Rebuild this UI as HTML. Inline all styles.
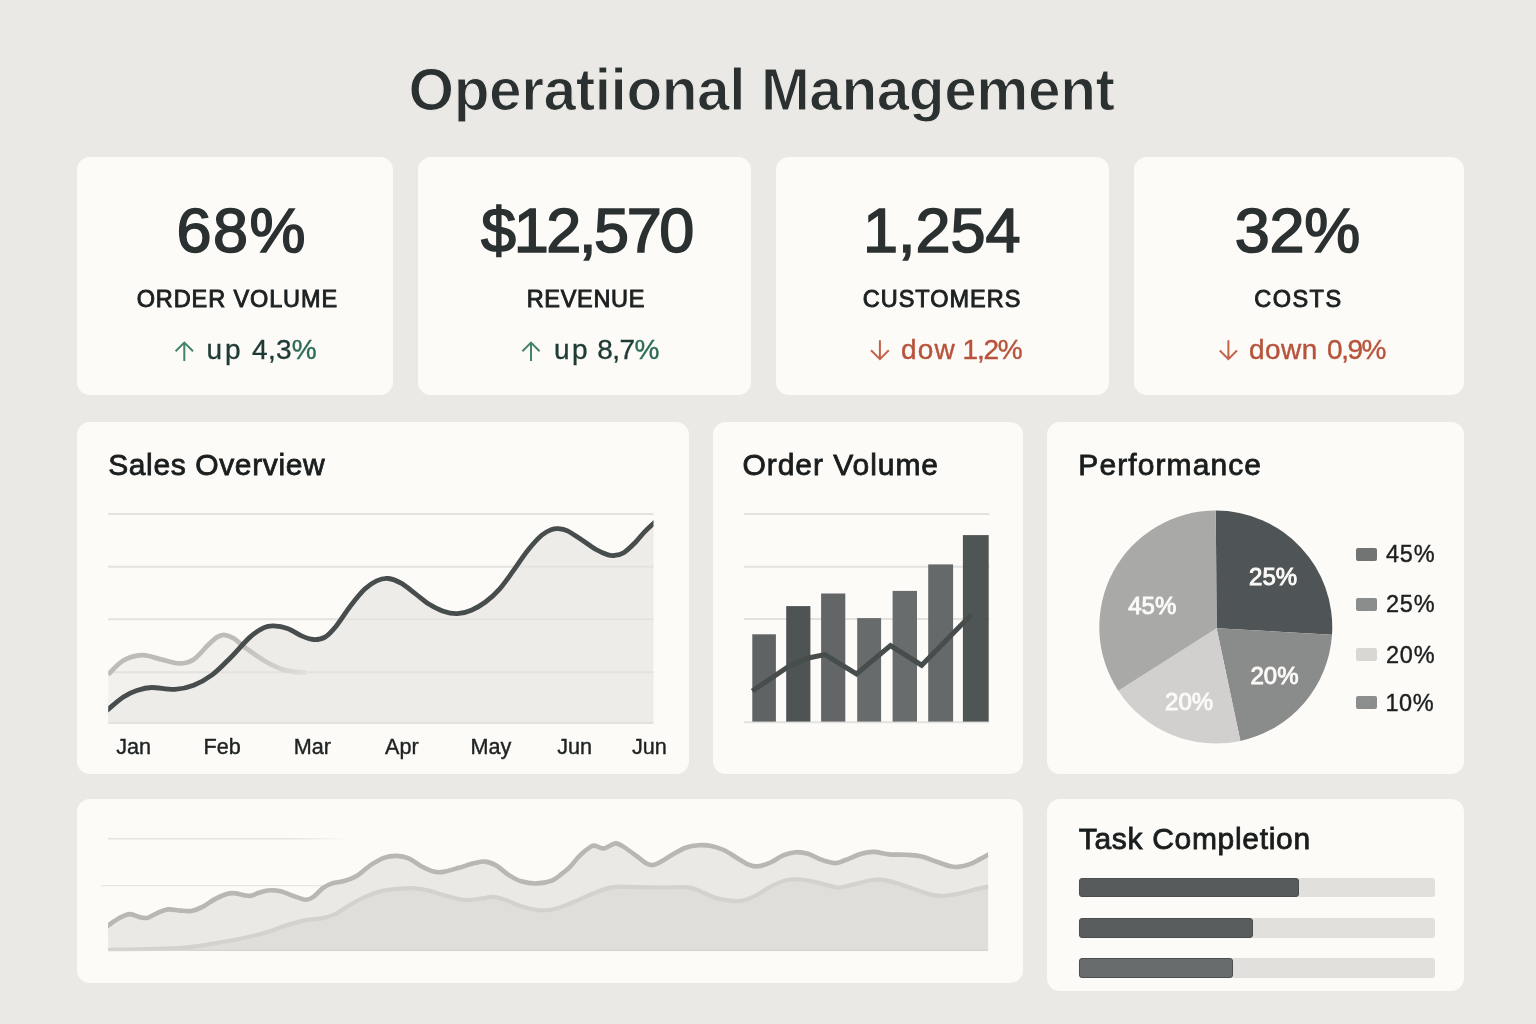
<!DOCTYPE html>
<html lang="en">
<head>
<meta charset="utf-8">
<title>Operatiional Management</title>
<style>
*{box-sizing:border-box;margin:0;padding:0}
html,body{width:1536px;height:1024px;overflow:hidden}
body{background:#EBE9E5;font-family:"Liberation Sans",Arial,sans-serif;color:#2A2F2F;position:relative}
.card{position:absolute;background:#FCFBF8;border-radius:13px}
.t{position:absolute;white-space:nowrap;line-height:1}
.h1{font-weight:700;color:#2B3031;-webkit-text-stroke:1.2px #EBE9E5}
.num{color:#2B3031;-webkit-text-stroke:1.6px #2B3031}
.lbl{color:#1C2020;-webkit-text-stroke:.9px #1C2020}
.up{color:#1F3B35;-webkit-text-stroke:.35px #1F3B35}.up b{font-weight:400;color:#2C6B55;-webkit-text-stroke:.35px #2C6B55}
.dn{color:#B8533B;-webkit-text-stroke:.4px #B8533B}
.ttl{color:#191D1D;-webkit-text-stroke:.8px #191D1D}
.mon{color:#1E2222;-webkit-text-stroke:.4px #1E2222}
.pl{color:#FBFAF7;-webkit-text-stroke:.95px #FBFAF7}
.lg{color:#1B1F1F;-webkit-text-stroke:.4px #1B1F1F}
svg{position:absolute;left:0;top:0;overflow:visible}
.sw{position:absolute;border-radius:2px}
.trk{position:absolute;background:#E2E0DC;border-radius:3px}
.bar{position:absolute;border-radius:3px;border:1px solid #4A4E4E}
</style>
</head>
<body>

<div class="t h1" style="left:408.6px;top:60.7px;font-size:58.6px;letter-spacing:-0.45px;">Operatiional Management</div>
<div class="card" style="left:77px;top:157px;width:316px;height:238px"></div>
<div class="card" style="left:418px;top:157px;width:333px;height:238px"></div>
<div class="card" style="left:776px;top:157px;width:333px;height:238px"></div>
<div class="card" style="left:1134px;top:157px;width:330px;height:238px"></div>
<div class="card" style="left:77px;top:422px;width:612px;height:352px"></div>
<div class="card" style="left:713px;top:422px;width:310px;height:352px"></div>
<div class="card" style="left:1047px;top:422px;width:417px;height:352px"></div>
<div class="card" style="left:77px;top:799px;width:946px;height:184px"></div>
<div class="card" style="left:1047px;top:799px;width:417px;height:192px"></div>
<div class="t num" style="left:176.5px;top:199.1px;font-size:63px;letter-spacing:1.4px;">68%</div>
<div class="t num" style="left:481.0px;top:199.4px;font-size:63px;letter-spacing:-2.4px;">$12,570</div>
<div class="t num" style="left:863.0px;top:199.4px;font-size:63px;">1,254</div>
<div class="t num" style="left:1234.7px;top:199.4px;font-size:63px;letter-spacing:-0.2px;">32%</div>
<div class="t lbl" style="left:136.7px;top:288.3px;font-size:23.5px;letter-spacing:0.89px;">ORDER VOLUME</div>
<div class="t lbl" style="left:526.7px;top:288.3px;font-size:23.5px;letter-spacing:0.68px;">REVENUE</div>
<div class="t lbl" style="left:862.7px;top:288.3px;font-size:23.5px;letter-spacing:1px;">CUSTOMERS</div>
<div class="t lbl" style="left:1254.2px;top:288.3px;font-size:23.5px;letter-spacing:1.5px;">COSTS</div>
<div class="t up" style="left:206.6px;top:336.1px;font-size:28px;word-spacing:.9px;"><span style="letter-spacing:2.8px">up</span> <span style="letter-spacing:.3px">4,3<b>%</b></span></div>
<div class="t up" style="left:554.0px;top:336.1px;font-size:28px;word-spacing:-.8px;"><span style="letter-spacing:2.5px">up</span> <span style="letter-spacing:-.5px">8,7<b>%</b></span></div>
<div class="t dn" style="left:901.1px;top:336.1px;font-size:28px;word-spacing:-1px;"><span style="letter-spacing:1.1px">dow</span> <span style="letter-spacing:-1.2px">1,2%</span></div>
<div class="t dn" style="left:1248.9px;top:336.1px;font-size:28px;word-spacing:1.5px;"><span style="letter-spacing:.5px">down</span> <span style="letter-spacing:-1.5px">0,9%</span></div>
<svg width="1536" height="1024" viewBox="0 0 1536 1024">
<defs><linearGradient id="lf" gradientUnits="userSpaceOnUse" x1="108" x2="308" y1="0" y2="0"><stop offset="0" stop-color="#BEBCB9"/><stop offset=".62" stop-color="#BEBCB9"/><stop offset=".8" stop-color="#CDCBC8"/><stop offset="1" stop-color="#E4E2DF"/></linearGradient><clipPath id="c1"><rect x="108.2" y="500" width="545.3" height="224"/></clipPath><clipPath id="c2"><rect x="108.1" y="820" width="880" height="131.2"/></clipPath></defs>
<path d="M184.3 361.0V342.6M175.6 351.3L184.3 342.6L193.0 351.3" fill="none" stroke="#448468" stroke-width="2" stroke-linejoin="miter"/>
<path d="M531.0 361.0V342.6M522.4 351.2L531.0 342.6L539.6 351.2" fill="none" stroke="#448468" stroke-width="2" stroke-linejoin="miter"/>
<path d="M879.9 340.2V359.1M871.0 350.2L879.9 359.1L888.8 350.2" fill="none" stroke="#C4634A" stroke-width="2" stroke-linejoin="miter"/>
<path d="M1228.4 340.2V359.1M1219.8 350.5L1228.4 359.1L1237.0 350.5" fill="none" stroke="#C4634A" stroke-width="2" stroke-linejoin="miter"/>
<path d="M108.2 674.6C110.7 672.2 117.7 663.7 123.4 660.5C129.1 657.3 135.9 655.4 142.2 655.2C148.4 655.0 154.7 658.0 160.9 659.4C167.2 660.8 174.2 663.4 179.7 663.4C185.2 663.4 189.0 662.4 193.7 659.4C198.4 656.4 203.9 649.0 207.8 645.3C211.7 641.6 214.5 638.9 217.2 637.1C219.9 635.4 221.5 634.6 224.2 634.8C226.9 635.0 230.1 636.1 233.6 638.3C237.1 640.4 240.2 644.0 245.3 647.7C250.4 651.4 258.1 657.0 264.0 660.5C269.9 664.0 275.4 666.8 280.5 668.7C285.6 670.6 290.2 671.2 294.5 671.8C298.8 672.4 304.3 672.4 306.3 672.5L306.3 723L108.2 723Z" fill="#F3F1EE"/>
<path d="M108.2 709.3C110.7 707.2 118.5 700.1 123.4 696.9C128.3 693.7 132.8 691.9 137.5 690.3C142.2 688.7 145.3 687.6 151.6 687.5C157.8 687.4 168.0 689.8 175.0 689.4C182.0 689.0 187.4 687.7 193.7 685.2C199.9 682.7 206.2 679.3 212.5 674.6C218.8 669.9 224.9 663.2 231.2 657.0C237.4 650.8 244.5 642.0 250.0 637.1C255.5 632.2 260.1 629.6 264.0 627.7C267.9 625.8 269.5 625.8 273.4 625.9C277.3 626.0 282.8 626.7 287.5 628.4C292.2 630.1 297.3 634.0 301.6 635.9C305.9 637.8 309.4 639.3 313.3 639.5C317.2 639.7 321.1 639.5 325.0 637.1C328.9 634.8 332.4 630.7 336.7 625.4C341.0 620.1 346.1 611.5 350.8 605.5C355.5 599.5 360.5 593.2 364.8 589.1C369.1 585.0 372.7 582.7 376.6 580.9C380.5 579.1 384.2 578.1 388.3 578.5C392.4 578.9 396.6 580.7 401.1 583.2C405.6 585.7 410.5 590.2 415.2 593.7C419.9 597.2 424.5 601.4 429.2 604.3C433.9 607.2 438.6 609.7 443.3 611.3C448.0 612.9 452.6 613.9 457.3 613.7C462.0 613.5 466.7 612.2 471.4 610.2C476.1 608.2 480.8 605.5 485.5 602.0C490.2 598.5 494.8 594.4 499.5 589.1C504.2 583.8 508.9 576.8 513.6 570.3C518.3 563.8 523.0 556.2 527.7 550.4C532.4 544.5 537.8 538.6 541.7 535.2C545.6 531.8 548.4 530.9 551.1 529.8C553.8 528.7 555.4 528.4 558.1 528.6C560.8 528.8 563.6 529.0 567.5 530.9C571.4 532.8 576.9 536.8 581.6 539.8C586.3 542.8 591.3 546.7 595.6 549.2C599.9 551.7 604.2 553.6 607.3 554.6C610.4 555.6 611.7 555.8 614.4 555.5C617.1 555.2 620.2 554.9 623.7 552.7C627.2 550.5 632.0 545.7 635.5 542.2C639.0 538.7 641.8 534.7 644.8 531.6C647.8 528.5 652.0 524.8 653.5 523.4L653.5 723L108.2 723Z" fill="#EEECE9"/>
<path d="M108.2 514.1H653.5" stroke="#E4E2DF" stroke-width="2"/>
<path d="M108.2 566.8H653.5" stroke="#E4E2DF" stroke-width="2"/>
<path d="M108.2 619.3H653.5" stroke="#E4E2DF" stroke-width="2"/>
<path d="M108.2 672.3H653.5" stroke="#E4E2DF" stroke-width="2"/>
<path d="M108.2 723.0H653.5" stroke="#E4E2DF" stroke-width="2"/>
<path d="M108.2 674.6C110.7 672.2 117.7 663.7 123.4 660.5C129.1 657.3 135.9 655.4 142.2 655.2C148.4 655.0 154.7 658.0 160.9 659.4C167.2 660.8 174.2 663.4 179.7 663.4C185.2 663.4 189.0 662.4 193.7 659.4C198.4 656.4 203.9 649.0 207.8 645.3C211.7 641.6 214.5 638.9 217.2 637.1C219.9 635.4 221.5 634.6 224.2 634.8C226.9 635.0 230.1 636.1 233.6 638.3C237.1 640.4 240.2 644.0 245.3 647.7C250.4 651.4 258.1 657.0 264.0 660.5C269.9 664.0 275.4 666.8 280.5 668.7C285.6 670.6 290.2 671.2 294.5 671.8C298.8 672.4 304.3 672.4 306.3 672.5" fill="none" stroke="url(#lf)" stroke-width="4.8" stroke-linecap="butt" clip-path="url(#c1)"/>
<path d="M108.2 709.3C110.7 707.2 118.5 700.1 123.4 696.9C128.3 693.7 132.8 691.9 137.5 690.3C142.2 688.7 145.3 687.6 151.6 687.5C157.8 687.4 168.0 689.8 175.0 689.4C182.0 689.0 187.4 687.7 193.7 685.2C199.9 682.7 206.2 679.3 212.5 674.6C218.8 669.9 224.9 663.2 231.2 657.0C237.4 650.8 244.5 642.0 250.0 637.1C255.5 632.2 260.1 629.6 264.0 627.7C267.9 625.8 269.5 625.8 273.4 625.9C277.3 626.0 282.8 626.7 287.5 628.4C292.2 630.1 297.3 634.0 301.6 635.9C305.9 637.8 309.4 639.3 313.3 639.5C317.2 639.7 321.1 639.5 325.0 637.1C328.9 634.8 332.4 630.7 336.7 625.4C341.0 620.1 346.1 611.5 350.8 605.5C355.5 599.5 360.5 593.2 364.8 589.1C369.1 585.0 372.7 582.7 376.6 580.9C380.5 579.1 384.2 578.1 388.3 578.5C392.4 578.9 396.6 580.7 401.1 583.2C405.6 585.7 410.5 590.2 415.2 593.7C419.9 597.2 424.5 601.4 429.2 604.3C433.9 607.2 438.6 609.7 443.3 611.3C448.0 612.9 452.6 613.9 457.3 613.7C462.0 613.5 466.7 612.2 471.4 610.2C476.1 608.2 480.8 605.5 485.5 602.0C490.2 598.5 494.8 594.4 499.5 589.1C504.2 583.8 508.9 576.8 513.6 570.3C518.3 563.8 523.0 556.2 527.7 550.4C532.4 544.5 537.8 538.6 541.7 535.2C545.6 531.8 548.4 530.9 551.1 529.8C553.8 528.7 555.4 528.4 558.1 528.6C560.8 528.8 563.6 529.0 567.5 530.9C571.4 532.8 576.9 536.8 581.6 539.8C586.3 542.8 591.3 546.7 595.6 549.2C599.9 551.7 604.2 553.6 607.3 554.6C610.4 555.6 611.7 555.8 614.4 555.5C617.1 555.2 620.2 554.9 623.7 552.7C627.2 550.5 632.0 545.7 635.5 542.2C639.0 538.7 641.8 534.7 644.8 531.6C647.8 528.5 652.0 524.8 653.5 523.4" fill="none" stroke="#474C4C" stroke-width="4.8" stroke-linecap="square" clip-path="url(#c1)"/>
<path d="M744 514.1H989.4" stroke="#E4E2DF" stroke-width="2"/>
<path d="M744 566.8H989.4" stroke="#E4E2DF" stroke-width="2"/>
<path d="M744 619.0H989.4" stroke="#E4E2DF" stroke-width="2"/>
<path d="M744 722.3H989.4" stroke="#E4E2DF" stroke-width="2"/>
<rect x="752.3" y="634.3" width="23.6" height="87.3" fill="#5F6363"/>
<rect x="786.2" y="606.1" width="24.2" height="115.5" fill="#4E5354"/>
<rect x="821.1" y="593.5" width="24.2" height="128.1" fill="#626666"/>
<rect x="857.2" y="618.1" width="23.9" height="103.5" fill="#686B6B"/>
<rect x="892.6" y="590.9" width="24.4" height="130.7" fill="#696C6C"/>
<rect x="928.2" y="564.4" width="24.9" height="157.2" fill="#666969"/>
<rect x="962.9" y="535.1" width="25.8" height="186.5" fill="#4F5455"/>
<path d="M752.3 691.0L788.6 666.4L807.3 658.2L824.9 654.6L856.5 673.9L890.5 645.7L921.7 665.2L971.3 614.8" fill="none" stroke="#474C4D" stroke-width="5" stroke-linejoin="miter"/>
<path d="M1216.6 628.2L1215.8 510.5A116.5 116.5 0 0 1 1332.0 634.7Z" fill="#4F5457"/>
<path d="M1216.6 628.2L1332.0 634.7A116.5 116.5 0 0 1 1240.4 740.9Z" fill="#8A8B8B"/>
<path d="M1216.6 628.2L1240.4 740.9A116.5 116.5 0 0 1 1118.3 690.8Z" fill="#D1D0CE"/>
<path d="M1216.6 628.2L1118.3 690.8A116.5 116.5 0 0 1 1215.8 510.5Z" fill="#A9A9A8"/>
<defs><linearGradient id="fd1" gradientUnits="userSpaceOnUse" x1="108" x2="352" y1="0" y2="0"><stop offset="0" stop-color="#E6E4E1"/><stop offset=".75" stop-color="#E6E4E1"/><stop offset="1" stop-color="#E6E4E1" stop-opacity="0"/></linearGradient></defs>
<path d="M108.1 838.8H352" stroke="url(#fd1)" stroke-width="1.4"/>
<path d="M101 885.6H330" stroke="#E9E7E4" stroke-width="1.4"/>
<path d="M108.1 925.6C110.0 924.3 116.0 919.7 119.7 917.8C123.4 915.9 126.6 914.2 130.0 914.1C133.4 914.0 137.0 916.6 140.0 917.2C143.0 917.8 144.9 918.5 147.8 917.8C150.7 917.1 153.8 914.5 157.2 913.1C160.6 911.7 164.2 909.8 168.1 909.4C172.0 909.0 176.7 910.4 180.6 910.6C184.5 910.9 187.9 911.5 191.6 910.9C195.2 910.3 198.6 908.9 202.5 906.9C206.4 904.9 210.8 901.3 215.0 899.1C219.2 896.9 224.1 894.8 227.5 893.8C230.9 892.8 231.7 893.0 235.3 893.4C239.0 893.8 245.5 896.0 249.4 895.9C253.3 895.8 255.4 893.7 258.8 892.8C262.2 891.9 266.1 890.5 269.7 890.3C273.3 890.0 276.7 890.4 280.6 891.3C284.5 892.2 288.9 894.5 293.1 895.9C297.3 897.3 302.2 899.5 305.6 899.7C309.0 899.9 310.5 898.8 313.4 896.9C316.3 895.0 319.7 890.4 322.8 888.1C325.9 885.9 328.8 884.5 332.2 883.4C335.6 882.3 339.2 882.4 343.1 881.3C347.0 880.2 350.9 879.4 355.6 876.6C360.3 873.8 366.6 867.8 371.3 864.7C376.0 861.6 379.6 859.3 383.8 857.8C388.0 856.3 392.1 855.8 396.3 855.9C400.5 856.0 404.6 856.7 408.8 858.4C413.0 860.1 417.1 864.1 421.3 866.3C425.5 868.5 430.2 870.7 433.8 871.6C437.4 872.5 438.9 872.5 443.1 871.9C447.3 871.3 453.6 869.3 458.8 867.8C464.0 866.3 470.0 864.1 474.4 863.1C478.8 862.1 481.6 861.2 485.3 861.6C489.0 862.0 492.4 863.4 496.3 865.6C500.2 867.8 504.6 872.4 508.8 875.0C513.0 877.6 516.6 879.9 521.3 881.3C526.0 882.7 531.7 883.6 536.9 883.4C542.1 883.2 548.1 882.1 552.5 880.3C556.9 878.5 560.5 874.7 563.4 872.5C566.3 870.3 567.2 869.8 570.0 866.9C572.8 864.0 576.5 858.7 580.0 855.3C583.5 851.9 588.3 848.2 590.9 846.6C593.5 845.0 593.5 845.6 595.6 845.9C597.7 846.2 601.0 848.4 603.4 848.4C605.8 848.4 607.6 846.7 609.7 845.9C611.8 845.1 613.5 843.2 615.9 843.4C618.2 843.6 620.4 844.8 623.8 846.9C627.2 849.0 632.4 853.1 636.3 855.9C640.2 858.7 644.4 862.3 647.2 863.8C650.1 865.3 651.0 865.4 653.4 865.0C655.8 864.6 657.9 863.5 661.3 861.6C664.7 859.7 669.6 856.1 673.8 853.8C678.0 851.4 682.1 848.9 686.3 847.5C690.5 846.1 694.6 845.6 698.8 845.3C703.0 845.0 707.1 845.1 711.3 845.9C715.5 846.7 719.6 848.1 723.8 850.0C728.0 851.9 732.1 855.0 736.3 857.5C740.5 860.0 745.2 863.2 748.8 864.7C752.4 866.2 754.5 866.7 758.1 866.3C761.7 865.9 766.4 864.3 770.6 862.5C774.8 860.7 778.9 857.0 783.1 855.3C787.3 853.6 791.4 852.5 795.6 852.2C799.8 852.0 803.9 852.6 808.1 853.8C812.3 855.0 816.2 857.8 820.6 859.4C825.0 861.0 830.5 863.0 834.7 863.1C838.9 863.2 841.2 861.5 845.6 860.0C850.0 858.5 856.6 855.1 861.3 853.8C866.0 852.4 869.1 851.8 873.8 851.9C878.5 852.0 884.2 853.9 889.4 854.4C894.6 854.9 899.8 854.4 905.0 854.7C910.2 855.0 915.4 855.1 920.6 856.3C925.8 857.4 931.3 859.9 936.3 861.6C941.2 863.3 946.7 865.4 950.3 866.3C953.9 867.2 954.7 867.3 958.1 866.9C961.5 866.5 967.0 865.1 970.6 863.8C974.2 862.5 977.1 860.6 980.0 859.1C982.9 857.6 986.8 855.4 988.1 854.7L988.1 950.5L108.1 950.5Z" fill="#EAE9E6"/>
<path d="M108.1 950.0C119.7 949.7 160.7 949.0 177.5 948.1C194.3 947.2 198.4 946.0 208.8 944.4C219.2 942.8 230.6 940.7 240.0 938.8C249.4 936.9 257.7 934.9 265.0 932.8C272.3 930.7 277.6 928.3 283.8 926.3C290.1 924.3 296.2 922.2 302.5 920.9C308.8 919.6 316.1 919.4 321.3 918.4C326.5 917.4 329.1 916.9 333.8 914.7C338.5 912.5 344.2 908.3 349.4 905.3C354.6 902.3 359.8 899.2 365.0 896.9C370.2 894.6 375.4 892.6 380.6 891.3C385.8 889.9 391.1 889.3 396.3 888.8C401.5 888.3 406.7 887.9 411.9 888.1C417.1 888.4 422.3 889.1 427.5 890.3C432.7 891.4 437.9 893.5 443.1 895.0C448.3 896.5 454.4 898.3 458.8 899.1C463.2 899.9 465.5 900.2 469.7 900.0C473.9 899.8 479.9 898.6 483.8 898.1C487.7 897.6 489.5 896.6 493.1 896.9C496.7 897.2 500.9 898.4 505.6 900.0C510.3 901.6 516.1 904.6 521.3 906.3C526.5 908.0 532.2 909.4 536.9 910.0C541.6 910.6 545.3 910.5 549.4 910.0C553.5 909.5 556.7 908.5 561.3 906.9C565.9 905.3 571.7 902.8 576.9 900.6C582.1 898.4 587.3 895.9 592.5 893.8C597.7 891.7 603.4 889.3 608.1 888.1C612.8 886.9 615.4 886.8 620.6 886.6C625.8 886.5 632.6 887.1 639.4 887.2C646.2 887.4 653.5 887.5 661.3 887.5C669.1 887.5 680.0 886.7 686.3 887.2C692.5 887.7 694.1 888.9 698.8 890.6C703.5 892.3 709.2 895.8 714.4 897.5C719.6 899.2 725.3 900.1 730.0 900.6C734.7 901.1 738.3 901.4 742.5 900.6C746.7 899.8 750.3 898.2 755.0 895.9C759.7 893.6 765.4 889.2 770.6 886.6C775.8 884.0 781.6 881.5 786.3 880.3C791.0 879.1 794.1 879.1 798.8 879.4C803.5 879.7 809.2 880.8 814.4 881.9C819.6 883.0 825.8 885.0 830.0 885.9C834.2 886.8 835.2 887.8 839.4 887.5C843.6 887.2 849.8 885.3 855.0 884.1C860.2 882.9 866.4 881.0 870.6 880.3C874.8 879.6 876.4 879.4 880.0 879.7C883.6 880.0 887.3 880.5 892.5 881.9C897.7 883.3 905.0 886.0 911.3 888.1C917.5 890.2 924.8 893.1 930.0 894.4C935.2 895.7 937.8 896.0 942.5 895.9C947.2 895.8 952.9 894.8 958.1 893.8C963.3 892.8 968.8 890.9 973.8 889.7C978.8 888.5 985.7 887.1 988.1 886.6L988.1 950.5L108.1 950.5Z" fill="#DFDEDB"/>
<path d="M108.1 950.0C119.7 949.7 160.7 949.0 177.5 948.1C194.3 947.2 198.4 946.0 208.8 944.4C219.2 942.8 230.6 940.7 240.0 938.8C249.4 936.9 257.7 934.9 265.0 932.8C272.3 930.7 277.6 928.3 283.8 926.3C290.1 924.3 296.2 922.2 302.5 920.9C308.8 919.6 316.1 919.4 321.3 918.4C326.5 917.4 329.1 916.9 333.8 914.7C338.5 912.5 344.2 908.3 349.4 905.3C354.6 902.3 359.8 899.2 365.0 896.9C370.2 894.6 375.4 892.6 380.6 891.3C385.8 889.9 391.1 889.3 396.3 888.8C401.5 888.3 406.7 887.9 411.9 888.1C417.1 888.4 422.3 889.1 427.5 890.3C432.7 891.4 437.9 893.5 443.1 895.0C448.3 896.5 454.4 898.3 458.8 899.1C463.2 899.9 465.5 900.2 469.7 900.0C473.9 899.8 479.9 898.6 483.8 898.1C487.7 897.6 489.5 896.6 493.1 896.9C496.7 897.2 500.9 898.4 505.6 900.0C510.3 901.6 516.1 904.6 521.3 906.3C526.5 908.0 532.2 909.4 536.9 910.0C541.6 910.6 545.3 910.5 549.4 910.0C553.5 909.5 556.7 908.5 561.3 906.9C565.9 905.3 571.7 902.8 576.9 900.6C582.1 898.4 587.3 895.9 592.5 893.8C597.7 891.7 603.4 889.3 608.1 888.1C612.8 886.9 615.4 886.8 620.6 886.6C625.8 886.5 632.6 887.1 639.4 887.2C646.2 887.4 653.5 887.5 661.3 887.5C669.1 887.5 680.0 886.7 686.3 887.2C692.5 887.7 694.1 888.9 698.8 890.6C703.5 892.3 709.2 895.8 714.4 897.5C719.6 899.2 725.3 900.1 730.0 900.6C734.7 901.1 738.3 901.4 742.5 900.6C746.7 899.8 750.3 898.2 755.0 895.9C759.7 893.6 765.4 889.2 770.6 886.6C775.8 884.0 781.6 881.5 786.3 880.3C791.0 879.1 794.1 879.1 798.8 879.4C803.5 879.7 809.2 880.8 814.4 881.9C819.6 883.0 825.8 885.0 830.0 885.9C834.2 886.8 835.2 887.8 839.4 887.5C843.6 887.2 849.8 885.3 855.0 884.1C860.2 882.9 866.4 881.0 870.6 880.3C874.8 879.6 876.4 879.4 880.0 879.7C883.6 880.0 887.3 880.5 892.5 881.9C897.7 883.3 905.0 886.0 911.3 888.1C917.5 890.2 924.8 893.1 930.0 894.4C935.2 895.7 937.8 896.0 942.5 895.9C947.2 895.8 952.9 894.8 958.1 893.8C963.3 892.8 968.8 890.9 973.8 889.7C978.8 888.5 985.7 887.1 988.1 886.6" fill="none" stroke="#D3D2CF" stroke-width="4.2" stroke-linecap="square" clip-path="url(#c2)"/>
<path d="M108.1 925.6C110.0 924.3 116.0 919.7 119.7 917.8C123.4 915.9 126.6 914.2 130.0 914.1C133.4 914.0 137.0 916.6 140.0 917.2C143.0 917.8 144.9 918.5 147.8 917.8C150.7 917.1 153.8 914.5 157.2 913.1C160.6 911.7 164.2 909.8 168.1 909.4C172.0 909.0 176.7 910.4 180.6 910.6C184.5 910.9 187.9 911.5 191.6 910.9C195.2 910.3 198.6 908.9 202.5 906.9C206.4 904.9 210.8 901.3 215.0 899.1C219.2 896.9 224.1 894.8 227.5 893.8C230.9 892.8 231.7 893.0 235.3 893.4C239.0 893.8 245.5 896.0 249.4 895.9C253.3 895.8 255.4 893.7 258.8 892.8C262.2 891.9 266.1 890.5 269.7 890.3C273.3 890.0 276.7 890.4 280.6 891.3C284.5 892.2 288.9 894.5 293.1 895.9C297.3 897.3 302.2 899.5 305.6 899.7C309.0 899.9 310.5 898.8 313.4 896.9C316.3 895.0 319.7 890.4 322.8 888.1C325.9 885.9 328.8 884.5 332.2 883.4C335.6 882.3 339.2 882.4 343.1 881.3C347.0 880.2 350.9 879.4 355.6 876.6C360.3 873.8 366.6 867.8 371.3 864.7C376.0 861.6 379.6 859.3 383.8 857.8C388.0 856.3 392.1 855.8 396.3 855.9C400.5 856.0 404.6 856.7 408.8 858.4C413.0 860.1 417.1 864.1 421.3 866.3C425.5 868.5 430.2 870.7 433.8 871.6C437.4 872.5 438.9 872.5 443.1 871.9C447.3 871.3 453.6 869.3 458.8 867.8C464.0 866.3 470.0 864.1 474.4 863.1C478.8 862.1 481.6 861.2 485.3 861.6C489.0 862.0 492.4 863.4 496.3 865.6C500.2 867.8 504.6 872.4 508.8 875.0C513.0 877.6 516.6 879.9 521.3 881.3C526.0 882.7 531.7 883.6 536.9 883.4C542.1 883.2 548.1 882.1 552.5 880.3C556.9 878.5 560.5 874.7 563.4 872.5C566.3 870.3 567.2 869.8 570.0 866.9C572.8 864.0 576.5 858.7 580.0 855.3C583.5 851.9 588.3 848.2 590.9 846.6C593.5 845.0 593.5 845.6 595.6 845.9C597.7 846.2 601.0 848.4 603.4 848.4C605.8 848.4 607.6 846.7 609.7 845.9C611.8 845.1 613.5 843.2 615.9 843.4C618.2 843.6 620.4 844.8 623.8 846.9C627.2 849.0 632.4 853.1 636.3 855.9C640.2 858.7 644.4 862.3 647.2 863.8C650.1 865.3 651.0 865.4 653.4 865.0C655.8 864.6 657.9 863.5 661.3 861.6C664.7 859.7 669.6 856.1 673.8 853.8C678.0 851.4 682.1 848.9 686.3 847.5C690.5 846.1 694.6 845.6 698.8 845.3C703.0 845.0 707.1 845.1 711.3 845.9C715.5 846.7 719.6 848.1 723.8 850.0C728.0 851.9 732.1 855.0 736.3 857.5C740.5 860.0 745.2 863.2 748.8 864.7C752.4 866.2 754.5 866.7 758.1 866.3C761.7 865.9 766.4 864.3 770.6 862.5C774.8 860.7 778.9 857.0 783.1 855.3C787.3 853.6 791.4 852.5 795.6 852.2C799.8 852.0 803.9 852.6 808.1 853.8C812.3 855.0 816.2 857.8 820.6 859.4C825.0 861.0 830.5 863.0 834.7 863.1C838.9 863.2 841.2 861.5 845.6 860.0C850.0 858.5 856.6 855.1 861.3 853.8C866.0 852.4 869.1 851.8 873.8 851.9C878.5 852.0 884.2 853.9 889.4 854.4C894.6 854.9 899.8 854.4 905.0 854.7C910.2 855.0 915.4 855.1 920.6 856.3C925.8 857.4 931.3 859.9 936.3 861.6C941.2 863.3 946.7 865.4 950.3 866.3C953.9 867.2 954.7 867.3 958.1 866.9C961.5 866.5 967.0 865.1 970.6 863.8C974.2 862.5 977.1 860.6 980.0 859.1C982.9 857.6 986.8 855.4 988.1 854.7" fill="none" stroke="#B8B7B4" stroke-width="4.6" stroke-linecap="square" clip-path="url(#c2)"/>
<path d="M108.1 950.3H988.1" stroke="#D6D5D2" stroke-width="1.4"/>
</svg>
<div class="t ttl" style="left:108.2px;top:449.8px;font-size:30px;letter-spacing:0.62px;">Sales Overview</div>
<div class="t ttl" style="left:742.5px;top:449.8px;font-size:30px;letter-spacing:0.95px;">Order Volume</div>
<div class="t ttl" style="left:1078.3px;top:449.8px;font-size:30px;letter-spacing:1.1px;">Performance</div>
<div class="t ttl" style="left:1078.7px;top:823.9px;font-size:30px;letter-spacing:0.69px;">Task Completion</div>
<div class="t mon" style="left:116.2px;top:735.7px;font-size:21.6px;">Jan</div>
<div class="t mon" style="left:203.5px;top:735.7px;font-size:21.6px;">Feb</div>
<div class="t mon" style="left:293.7px;top:735.7px;font-size:21.6px;">Mar</div>
<div class="t mon" style="left:385.1px;top:735.7px;font-size:21.6px;">Apr</div>
<div class="t mon" style="left:470.5px;top:735.7px;font-size:21.6px;">May</div>
<div class="t mon" style="left:557.3px;top:735.7px;font-size:21.6px;">Jun</div>
<div class="t mon" style="left:632.0px;top:735.7px;font-size:21.6px;">Jun</div>
<div class="t pl" style="left:1249.1px;top:564.7px;font-size:24px;">25%</div>
<div class="t pl" style="left:1128.2px;top:594.0px;font-size:24px;">45%</div>
<div class="t pl" style="left:1250.5px;top:664.0px;font-size:24px;">20%</div>
<div class="t pl" style="left:1165.1px;top:690.1px;font-size:24px;">20%</div>
<div class="sw" style="left:1356px;top:547.6px;width:20.7px;height:13.3px;background:#727474"></div>
<div class="sw" style="left:1356px;top:598.0px;width:20.7px;height:13.3px;background:#8B8C8C"></div>
<div class="sw" style="left:1356px;top:647.8px;width:20.7px;height:13.5px;background:#D8D7D4"></div>
<div class="sw" style="left:1356px;top:696.1px;width:20.7px;height:13.1px;background:#8C8D8D"></div>
<div class="t lg" style="left:1385.9px;top:543.1px;font-size:23.5px;letter-spacing:0.8px;">45%</div>
<div class="t lg" style="left:1385.9px;top:593.4px;font-size:23.5px;letter-spacing:0.8px;">25%</div>
<div class="t lg" style="left:1385.9px;top:643.8px;font-size:23.5px;letter-spacing:0.8px;">20%</div>
<div class="t lg" style="left:1385.4px;top:691.7px;font-size:23.5px;letter-spacing:0.6px;">10%</div>
<div class="trk" style="left:1079px;top:878.0px;width:356.4px;height:19.2px"></div>
<div class="bar" style="left:1079px;top:878.0px;width:220.0px;height:19.2px;background:#575B5C"></div>
<div class="trk" style="left:1079px;top:918.3px;width:356.4px;height:19.6px"></div>
<div class="bar" style="left:1079px;top:918.3px;width:174.4px;height:19.6px;background:#595D5E"></div>
<div class="trk" style="left:1079px;top:958.1px;width:356.4px;height:19.8px"></div>
<div class="bar" style="left:1079px;top:958.1px;width:154.3px;height:19.8px;background:#696C6D"></div>
</body>
</html>
